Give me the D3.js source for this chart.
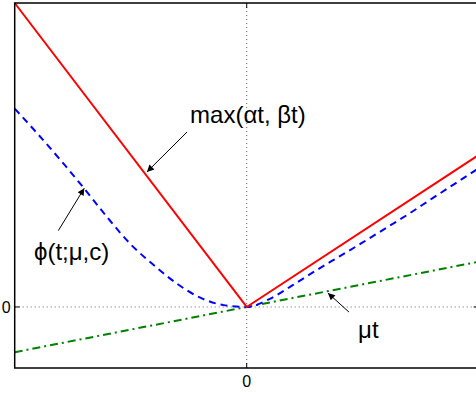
<!DOCTYPE html>
<html>
<head>
<meta charset="utf-8">
<script src="https://cdn.jsdelivr.net/npm/d3@7"></script>
<style>
  html, body { margin: 0; padding: 0; background: #fff; }
  svg { display: block; font-family: "Liberation Sans", Arial, sans-serif; }
</style>
</head>
<body>
<svg id="chart"></svg>
<script>
var width = 476, height = 395;

// data (t on x, value on y)
var tExtent = [-1, 1];
var vExtent = [-0.263, 1.31];
var xTicks = [0], yTicks = [0];

// max(alpha t, beta t)
var maxT = [-1, 0, 1];
var maxV = [1.31, 0, 0.655];

// phi(t; mu, c)
var phiT = [-1, -0.9, -0.8, -0.7, -0.6, -0.5, -0.4, -0.3, -0.2, -0.1, 0, 0.1, 0.2, 0.3, 0.4, 0.5, 0.6, 0.7, 0.8, 0.9, 1];
var phiV = [0.855, 0.745, 0.63, 0.51, 0.385, 0.27, 0.18, 0.10, 0.04, 0.008, 0, 0.035, 0.095, 0.158, 0.218, 0.278, 0.34, 0.402, 0.468, 0.533, 0.598];

// mu t
var muT = [-1, 1];
var muV = [-0.195, 0.195];

// annotations: label position and arrow (tail -> head) in data units
var labels = ["max(\u03b1t, \u03b2t)", "\u03d5(t;\u03bc,c)", "\u03bct"];
var labelAt = [[-0.244, 0.794], [-0.917, 0.203], [0.480, -0.134]];
var arrowFrom = [[-0.257, 0.754], [-0.812, 0.329], [0.441, -0.022]];
var arrowTo = [[-0.430, 0.582], [-0.700, 0.512], [0.350, 0.060]];

var x = d3.scaleLinear().domain(tExtent).range([14.7, 478.7]);
var y = d3.scaleLinear().domain(vExtent).range([368, 3]);

var svg = d3.select("#chart").attr("width", width).attr("height", height);

svg.append("defs").append("marker")
    .attr("id", "head")
    .attr("viewBox", "0 0 10 10")
    .attr("refX", 10).attr("refY", 5)
    .attr("markerWidth", 11).attr("markerHeight", 7)
    .attr("markerUnits", "userSpaceOnUse")
    .attr("orient", "auto")
    .append("path")
    .attr("d", "M0,0 L10,5 L0,10 Z")
    .style("fill", "#000");

// grid at the zero ticks
var gGrid = svg.append("g");
gGrid.selectAll("line.gx").data(xTicks).enter().append("line")
    .attr("x1", d => x(d)).attr("x2", d => x(d))
    .attr("y1", y.range()[0]).attr("y2", y.range()[1])
    .style("stroke", "#666").style("stroke-width", 1)
    .style("stroke-dasharray", "1,3");
gGrid.selectAll("line.gy").data(yTicks).enter().append("line")
    .attr("x1", x.range()[0]).attr("x2", x.range()[1])
    .attr("y1", d => y(d)).attr("y2", d => y(d))
    .style("stroke", "#666").style("stroke-width", 1)
    .style("stroke-dasharray", "1,3");

// curves
var line = d3.line().x(d => x(d[0])).y(d => y(d[1]));
var smooth = d3.line().x(d => x(d[0])).y(d => y(d[1])).curve(d3.curveMonotoneX);

svg.append("path")
    .datum(muT.map((t, i) => [t, muV[i]]))
    .attr("d", line)
    .style("fill", "none").style("stroke", "#008000").style("stroke-width", 2)
    .style("stroke-dasharray", "8,4,2,4");

svg.append("path")
    .datum(phiT.map((t, i) => [t, phiV[i]]))
    .attr("d", smooth)
    .style("fill", "none").style("stroke", "#0000ff").style("stroke-width", 2)
    .style("stroke-dasharray", "7,5");

svg.append("path")
    .datum(maxT.map((t, i) => [t, maxV[i]]))
    .attr("d", line)
    .style("fill", "none").style("stroke", "#ff0000").style("stroke-width", 2);

// axes box
var x0 = x.range()[0], x1 = x.range()[1], y0 = y.range()[0], y1 = y.range()[1];
svg.append("rect")
    .attr("x", x0).attr("y", y1)
    .attr("width", x1 - x0).attr("height", y0 - y1)
    .style("fill", "none").style("stroke", "#000").style("stroke-width", 1.5);

// ticks (inward, both sides) and tick labels
var tickLen = 5;
xTicks.forEach(function(d) {
    svg.append("line").attr("x1", x(d)).attr("x2", x(d)).attr("y1", y0).attr("y2", y0 - tickLen)
        .style("stroke", "#000");
    svg.append("line").attr("x1", x(d)).attr("x2", x(d)).attr("y1", y1).attr("y2", y1 + tickLen)
        .style("stroke", "#000");
    svg.append("text").attr("x", x(d)).attr("y", y0 + 19)
        .attr("text-anchor", "middle").style("font-size", "16px").text(d);
});
yTicks.forEach(function(d) {
    svg.append("line").attr("x1", x0).attr("x2", x0 + tickLen).attr("y1", y(d)).attr("y2", y(d))
        .style("stroke", "#000");
    svg.append("line").attr("x1", x1).attr("x2", x1 - tickLen).attr("y1", y(d)).attr("y2", y(d))
        .style("stroke", "#000");
    svg.append("text").attr("x", x0 - 4).attr("y", y(d) + 6)
        .attr("text-anchor", "end").style("font-size", "16px").text(d);
});

// annotations
labels.forEach(function(txt, i) {
    svg.append("line")
        .attr("x1", x(arrowFrom[i][0])).attr("y1", y(arrowFrom[i][1]))
        .attr("x2", x(arrowTo[i][0])).attr("y2", y(arrowTo[i][1]))
        .style("stroke", "#000").style("stroke-width", 1)
        .attr("marker-end", "url(#head)");
    svg.append("text")
        .attr("x", x(labelAt[i][0])).attr("y", y(labelAt[i][1]))
        .style("font-size", "24px").style("fill", "#000")
        .text(txt);
});
</script>
</body>
</html>
